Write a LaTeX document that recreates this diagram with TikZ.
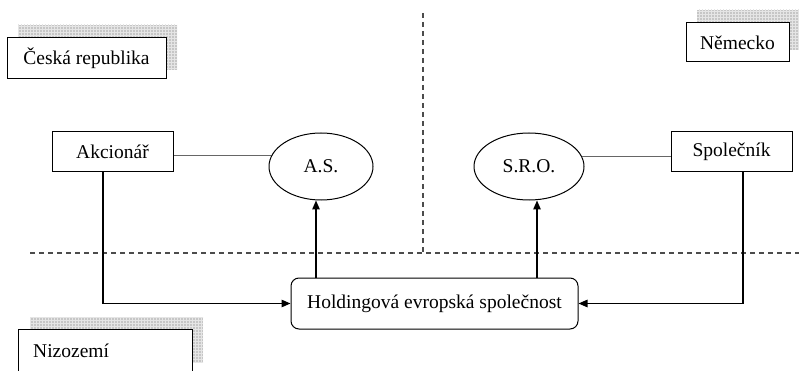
\documentclass[tikz,border=0pt]{standalone}
\usepackage{fontspec}
\setmainfont{Liberation Serif}
\usetikzlibrary{arrows.meta,patterns,shapes.geometric}
\begin{document}
\begin{tikzpicture}[x=1pt,y=-1pt,
  every node/.style={font=\fontsize{19.5}{23}\selectfont},
  regbox/.style={draw=black,line width=1pt,fill=white,inner sep=0pt},
  ellnode/.style={ellipse,draw=black,line width=1pt,inner sep=0pt},
  shadowgrid/.style={fill=gray!45,postaction={pattern=grid,pattern color=gray!20}},
  linkline/.style={draw=gray!80!black,line width=1pt},
  arrowline/.style={draw=black,line width=1.3pt,-{Triangle[length=9pt,width=7.5pt]}},
  sepline/.style={draw=gray!60!black,line width=1.2pt,dash pattern=on 5pt off 4pt}]
\useasboundingbox (0,0) rectangle (799,371);
% shadows
\fill[shadowgrid] (18,25) rectangle (177,70);
\fill[shadowgrid] (697,10) rectangle (800,50);
\fill[shadowgrid] (30,317) rectangle (203,362);
% separators
\coordinate (dv1) at (423,13);
\coordinate (dv2) at (423,253);
\coordinate (dh1) at (30,253);
\coordinate (dh2) at (799,253);
\draw[sepline] (dv1) -- (dv2);
\draw[sepline] (dh1) -- (dh2);
% country boxes
\node[regbox,minimum width=159pt,minimum height=41pt] (cz) at (86.5,58.5) {Česká republika};
\node[regbox,minimum width=103pt,minimum height=39pt] (de) at (737.5,42.5) {Německo};
\node[regbox,anchor=north west,minimum width=174pt,minimum height=60pt] (nl) at (18,329) {};
\node[anchor=base west,inner sep=0pt] (nltext) at (33,357) {Nizozemí};
% entities
\node[regbox,minimum width=121pt,minimum height=40pt] (akc) at (112.5,152) {Akcionář};
\node[regbox,minimum width=121pt,minimum height=40pt] (spol) at (731.5,152) {Společník};
\node[ellnode,minimum width=104pt,minimum height=67pt] (as) at (321,166.5) {A.S.};
\node[ellnode,minimum width=110pt,minimum height=67pt] (sro) at (529,166.5) {S.R.O.};
\node[regbox,rounded corners=8pt,minimum width=287pt,minimum height=51pt] (hold) at (434.5,303.5) {Holdingová evropská společnost};
% links
\draw[linkline] (as.168.6) -- (as.168.6 -| akc.east);
\draw[linkline] (sro.11.4) -- (sro.11.4 -| spol.west);
\coordinate (akcout) at ([xshift=-9.5pt]akc.south);
\coordinate (spolout) at ([xshift=11.5pt]spol.south);
\coordinate (asin) at ([xshift=-5pt]as.south);
\coordinate (sroin) at ([xshift=8pt]sro.south);
\draw[arrowline] (akcout) |- (hold.west);
\draw[arrowline] (spolout) |- (hold.east);
\draw[arrowline] (asin |- hold.north) -- (asin);
\draw[arrowline] (sroin |- hold.north) -- (sroin);
\end{tikzpicture}
\end{document}
